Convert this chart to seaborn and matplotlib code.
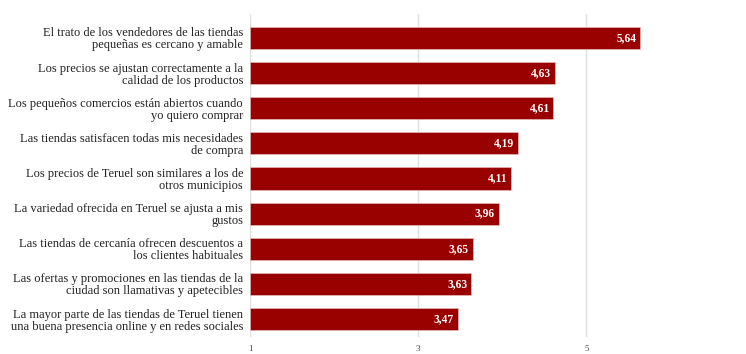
import matplotlib
matplotlib.use("Agg")
import matplotlib.pyplot as plt
import seaborn as sns
import pandas as pd

categories = [
    "El trato de los vendedores de las tiendas\npequeñas es cercano y amable",
    "Los precios se ajustan correctamente a la\ncalidad de los productos",
    "Los pequeños comercios están abiertos cuando\nyo quiero comprar",
    "Las tiendas satisfacen todas mis necesidades\nde compra",
    "Los precios de Teruel son similares a los de\notros municipios",
    "La variedad ofrecida en Teruel se ajusta a mis\ngustos",
    "Las tiendas de cercanía ofrecen descuentos a\nlos clientes habituales",
    "Las ofertas y promociones en las tiendas de la\nciudad son llamativas y apetecibles",
    "La mayor parte de las tiendas de Teruel tienen\nuna buena presencia online y en redes sociales",
]
values = [5.64, 4.63, 4.61, 4.19, 4.11, 3.96, 3.65, 3.63, 3.47]
xticks = [1, 3, 5]

df = pd.DataFrame({"cat": categories, "val": values})

sns.set_theme(style="white")
plt.rcParams["font.family"] = ["Liberation Serif", "DejaVu Serif"]

fig = plt.figure(figsize=(7.46, 3.54), dpi=100)
ax = fig.add_axes([250 / 746, 1 - 337 / 354, 496 / 746, 323 / 354])

base = 1
sns.barplot(data=df, x="val", y="cat", orient="h", color="#990000",
            saturation=1, width=0.63, ax=ax,
            edgecolor="#e8c8c8", linewidth=0.4)
for p, v in zip(ax.patches, values):
    p.set_x(base)
    p.set_width(v - base)
    ax.text(v - 0.045, p.get_y() + p.get_height() / 2, f"{v:.2f}".replace(".", ","),
            ha="right", va="center", color="white", fontsize=8.3, fontweight="bold")

ax.set_xlim(1, 6.9)
ax.set_ylim(8.51, -0.68)
ax.set_xticks(xticks)
ax.set_xticklabels([str(t) for t in xticks], fontsize=6.5, color="#444444")
ax.tick_params(axis="x", length=0, pad=6)
ax.tick_params(axis="y", length=0, pad=5, labelsize=9.0, labelcolor="#222222")
for lbl in ax.get_yticklabels():
    lbl.set_linespacing(1.0)
ax.set_xlabel("")
ax.set_ylabel("")
ax.grid(axis="x", color="#e0e0e0", linewidth=1)
ax.set_axisbelow(True)
for s in ax.spines.values():
    s.set_visible(False)

fig.savefig("out.png", dpi=100)
